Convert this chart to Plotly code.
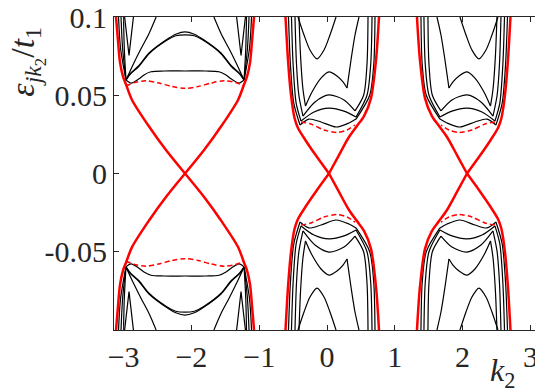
"""Band spectrum near the three valleys, red = edge states."""

import plotly.graph_objects as go

# --- left valley (k ~ -2.09), upper half; the lower half is E -> -E
lv_red_left_k = [-3.112, -3.083, -3.053, -3.009, -2.965, -2.876, -2.625, -2.375, -2.094]
lv_red_right_k = [-1.076, -1.105, -1.135, -1.179, -1.223, -1.312, -1.563, -1.813, -2.094]
lv_red_e = [0.100, 0.085, 0.071, 0.062, 0.057, 0.047, 0.030, 0.015, 0.0]

lv_dash_k = [-2.965, -2.850, -2.670, -2.480, -2.290, -2.094, -1.898, -1.708, -1.518, -1.338, -1.223]
lv_dash_e = [0.0559, 0.0580, 0.0593, 0.0578, 0.0556, 0.0544, 0.0556, 0.0578, 0.0593, 0.0580, 0.0559]

lv_band1_k = [-2.965, -2.891, -2.773, -2.699, -2.596, -2.404, -2.094, -1.784, -1.592, -1.489, -1.415, -1.297, -1.223]
lv_band1_e = [0.0597, 0.0578, 0.0605, 0.0630, 0.0650, 0.0655, 0.0655, 0.0655, 0.0650, 0.0630, 0.0605, 0.0578, 0.0597]

lv_band2_k = [-2.965, -2.900, -2.773, -2.625, -2.375, -2.230, -2.094, -1.958, -1.813, -1.563, -1.415, -1.288, -1.223]
lv_band2a_e = [0.0597, 0.0640, 0.0690, 0.0770, 0.0853, 0.0890, 0.0905, 0.0890, 0.0853, 0.0770, 0.0690, 0.0640, 0.0597]
lv_band2b_e = [0.0597, 0.0635, 0.0685, 0.0765, 0.0848, 0.0880, 0.0886, 0.0880, 0.0848, 0.0765, 0.0685, 0.0635, 0.0597]

lv_diag_left_k = [-2.965, -2.850, -2.740, -2.630, -2.520]
lv_diag_right_k = [-1.223, -1.338, -1.448, -1.558, -1.668]
lv_diag_e = [0.0597, 0.0705, 0.0800, 0.0890, 0.100]

lv_v_left_k = [-2.985, -2.920, -2.855]
lv_v_right_k = [-1.203, -1.268, -1.333]
lv_v_e = [0.100, 0.0755, 0.100]

lv_edge_left_k = [[-3.075, -3.045, -2.965], [-3.038, -3.015, -2.965], [-3.001, -2.990, -2.965]]
lv_edge_right_k = [[-1.113, -1.143, -1.223], [-1.150, -1.173, -1.223], [-1.187, -1.198, -1.223]]
lv_edge_e = [0.100, 0.080, 0.0597]

# --- middle valley (k ~ 0), upper half; the right valley is its mirror k -> 2.094 - k
mv_red_left_k = [-0.612, -0.575, -0.531, -0.479, -0.428, -0.310, -0.147, 0.029]
mv_red_left_e = [0.100, 0.0725, 0.0502, 0.0355, 0.0291, 0.0208, 0.0105, 0.0]
mv_red_right_k = [0.767, 0.723, 0.649, 0.546, 0.442, 0.324, 0.177, 0.029]
mv_red_right_e = [0.100, 0.0725, 0.0482, 0.0367, 0.0304, 0.0233, 0.0118, 0.0]

mv_dash_k = [-0.383, -0.236, -0.044, 0.147, 0.295, 0.413]
mv_dash_e = [0.0329, 0.0316, 0.0278, 0.0262, 0.0278, 0.0310]

mv_band1_k = [-0.398, -0.265, -0.088, 0.133, 0.324, 0.428]
mv_band1_e = [0.0310, 0.0348, 0.0329, 0.0297, 0.0323, 0.0348]
mv_band2_k = [-0.383, -0.192, 0.029, 0.251, 0.428]
mv_band2_e = [0.0335, 0.0393, 0.0418, 0.0399, 0.0361]
mv_band3_k = [-0.354, -0.177, 0.029, 0.251, 0.413]
mv_band3_e = [0.0367, 0.0457, 0.0502, 0.0470, 0.0400]

mv_w_left_k = [-0.413, -0.390, -0.355, -0.317]
mv_w_left_e = [0.100, 0.0750, 0.0540, 0.0431]
mv_w_mid_k = [-0.317, -0.221, -0.088, 0.029, 0.147, 0.236, 0.295]
mv_w_mid_e = [0.0431, 0.0521, 0.0610, 0.0649, 0.0623, 0.0585, 0.0546]
mv_w_right_k = [0.295, 0.354, 0.413, 0.472]
mv_w_right_e = [0.0546, 0.0725, 0.0885, 0.100]

mv_par_k = [-0.428, -0.339, -0.251, -0.147, -0.044, 0.044, 0.133]
mv_par_e = [0.100, 0.0885, 0.0789, 0.0732, 0.0789, 0.0885, 0.100]

mv_edge_left_k = [[-0.568, -0.540, -0.490, -0.398], [-0.524, -0.500, -0.455, -0.383], [-0.472, -0.450, -0.415, -0.354]]
mv_edge_left_e = [[0.100, 0.070, 0.045, 0.0310], [0.100, 0.070, 0.045, 0.0335], [0.100, 0.070, 0.050, 0.0367]]
mv_edge_right_k = [[0.708, 0.690, 0.630, 0.428], [0.664, 0.645, 0.590, 0.428], [0.605, 0.590, 0.540, 0.413]]
mv_edge_right_e = [[0.100, 0.070, 0.050, 0.0348], [0.100, 0.070, 0.050, 0.0361], [0.100, 0.070, 0.050, 0.0400]]

MIRROR_K = 2.094

x_ticks = [-3, -2, -1, 0, 1, 2, 3]
y_ticks = [-0.05, 0, 0.05, 0.1]
y_tick_text = ["-0.05", "0", "0.05", "0.1"]

FONT = "Liberation Serif"
INK = "#262626"
BLACK = {"color": "black", "width": 1.2}
RED = {"color": "#ff0000", "width": 2.5}
RED_DASH = {"color": "#ff0000", "width": 1.5, "dash": "5px,3px"}


def add_curve(fig, k, e, line, mirror=False, smooth=True):
    """Add a curve and its E -> -E partner (and optionally the k mirror)."""
    ks = [k]
    if mirror:
        ks.append([MIRROR_K - v for v in k])
    line = dict(line)
    if smooth:
        line["shape"] = "spline"
        line["smoothing"] = 0.8
    for kk in ks:
        for sign in (1, -1):
            fig.add_trace(go.Scatter(
                x=kk, y=[sign * v for v in e], mode="lines",
                line=line, hoverinfo="skip", showlegend=False
            ))


fig = go.Figure()

# left valley
for kk in lv_edge_left_k + lv_edge_right_k:
    add_curve(fig, kk, lv_edge_e, BLACK)
add_curve(fig, lv_band1_k, lv_band1_e, BLACK)
add_curve(fig, lv_band2_k, lv_band2a_e, BLACK)
add_curve(fig, lv_band2_k, lv_band2b_e, BLACK)
add_curve(fig, lv_diag_left_k, lv_diag_e, BLACK)
add_curve(fig, lv_diag_right_k, lv_diag_e, BLACK)
add_curve(fig, lv_v_left_k, lv_v_e, BLACK, smooth=False)
add_curve(fig, lv_v_right_k, lv_v_e, BLACK, smooth=False)
add_curve(fig, lv_dash_k, lv_dash_e, RED_DASH)

# middle + right valleys
for kk, ee in zip(mv_edge_left_k + mv_edge_right_k, mv_edge_left_e + mv_edge_right_e):
    add_curve(fig, kk, ee, BLACK, mirror=True)
add_curve(fig, mv_band1_k, mv_band1_e, BLACK, mirror=True)
add_curve(fig, mv_band2_k, mv_band2_e, BLACK, mirror=True)
add_curve(fig, mv_band3_k, mv_band3_e, BLACK, mirror=True)
add_curve(fig, mv_w_left_k, mv_w_left_e, BLACK, mirror=True)
add_curve(fig, mv_w_mid_k, mv_w_mid_e, BLACK, mirror=True)
add_curve(fig, mv_w_right_k, mv_w_right_e, BLACK, mirror=True)
add_curve(fig, mv_par_k, mv_par_e, BLACK, mirror=True)
add_curve(fig, mv_dash_k, mv_dash_e, RED_DASH, mirror=True)

# edge states on top
add_curve(fig, lv_red_left_k, lv_red_e, RED)
add_curve(fig, lv_red_right_k, lv_red_e, RED)
add_curve(fig, mv_red_left_k, mv_red_left_e, RED, mirror=True)
add_curve(fig, mv_red_right_k, mv_red_right_e, RED, mirror=True)

axis_common = {
    "showgrid": False,
    "zeroline": False,
    "showline": True,
    "mirror": "ticks",
    "linecolor": INK,
    "linewidth": 1,
    "ticks": "inside",
    "ticklen": 5,
    "tickcolor": INK,
    "automargin": False,
    "ticklabeloverflow": "allow",
    "tickfont": {"family": FONT, "size": 30, "color": INK},
}

# page body has an 8px margin, so the margins below are shifted by it
fig.update_layout(
    width=543,
    height=391,
    margin={"l": 106, "r": 11, "t": 9, "b": 69},
    plot_bgcolor="white",
    paper_bgcolor="white",
    xaxis={**axis_common, "range": [-3.1416, 3.1416],
           "tickmode": "array", "tickvals": x_ticks},
    yaxis={**axis_common, "range": [-0.1, 0.100001],
           "tickmode": "array", "tickvals": y_ticks,
           "ticktext": y_tick_text},
    annotations=[
        {
            "text": "<i>ε</i><sub><i>jk</i><sub>2</sub></sub>/<i>t</i><sub>1</sub>",
            "xref": "paper", "yref": "paper",
            "x": -0.205, "y": 0.856, "textangle": -90,
            "xanchor": "center", "yanchor": "middle",
            "showarrow": False,
            "font": {"family": FONT, "size": 34, "color": INK},
        },
        {
            "text": "<i>k</i><sub>2</sub>",
            "xref": "paper", "yref": "paper",
            "x": 0.911, "y": -0.137,
            "xanchor": "center", "yanchor": "middle",
            "showarrow": False,
            "font": {"family": FONT, "size": 32, "color": INK},
        },
    ],
)

fig.write_html("out.html")
